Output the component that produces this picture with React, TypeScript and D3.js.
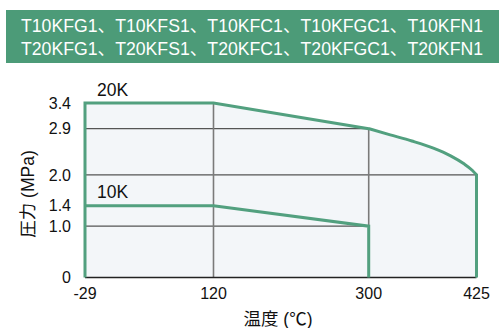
import React from "react";
import * as d3 from "d3";

const headerLines = [
  "T10KFG1、T10KFS1、T10KFC1、T10KFGC1、T10KFN1",
  "T20KFG1、T20KFS1、T20KFC1、T20KFGC1、T20KFN1",
];
const tempTicks = [-29, 120, 300, 425];
const pressureTicks = [0, 1.0, 1.4, 2.0, 2.9, 3.4];

// 20K rating: straight part, curved part
const t20Straight = [-29, -29, 120, 300];
const p20Straight = [0, 3.4, 3.4, 2.9];
const t20Curve = [300, 325, 350, 375, 395, 410, 420, 425];
const p20Curve = [2.9, 2.78, 2.66, 2.52, 2.37, 2.22, 2.09, 2.0];
const t20End = [425, 425];
const p20End = [2.0, 0];

// 10K rating
const t10 = [-29, 120, 300, 300];
const p10 = [1.4, 1.4, 1.0, 0];

// horizontal grid lines: pressure, end temperature
const hGridP = [2.9, 2.0, 1.0];
const hGridTo = [300, 425, 300];
// vertical grid lines: temperature, top pressure
const vGridT = [120, 300];
const vGridTop = [3.4, 2.9];

const seriesLabels = ["20K", "10K"];
const seriesLabelP = [3.4, 1.4];

const W = 499;
const H = 328;
const FONT = "'Liberation Sans', Arial, 'Noto Sans CJK JP', sans-serif";
const GREEN = "#52A07F";
const HEADER = "#4C9B78";

export default function App() {
  const x = d3.scaleLinear().domain([-29, 425]).range([85, 476.5]);
  const y = d3.scaleLinear().domain([0, 3.4]).range([277.5, 103]);

  const lin = d3
    .line<[number, number]>()
    .x((d) => x(d[0]))
    .y((d) => y(d[1]))
    .curve(d3.curveLinear);
  const mono = d3
    .line<[number, number]>()
    .x((d) => x(d[0]))
    .y((d) => y(d[1]))
    .curve(d3.curveMonotoneX);

  const zip = (a: number[], b: number[]) =>
    a.map((v, i) => [v, b[i]] as [number, number]);

  const d20 =
    (lin(zip(t20Straight, p20Straight)) || "") +
    (mono(zip(t20Curve, p20Curve)) || "").replace(/^M/, "L") +
    (lin(zip(t20End, p20End)) || "").replace(/^M/, "L");
  const d10 = lin(zip(t10, p10)) || "";

  return (
    <svg
      width={W}
      height={H}
      style={{ position: "absolute", left: 0, top: 0, display: "block" }}
      fontFamily={FONT}
    >
      <rect x={0} y={0} width={W} height={H} fill="#ffffff" />
      {/* header */}
      <rect x={6} y={10} width={493} height={53} fill={HEADER} />
      {headerLines.map((t, i) => (
        <text
          key={t}
          x={252}
          y={31.5 + i * 23.5}
          textAnchor="middle"
          fill="#ffffff"
          fontSize={18}
          textLength={462}
          lengthAdjust="spacingAndGlyphs"
        >
          {t}
        </text>
      ))}

      {/* fill */}
      <path d={d20 + "Z"} fill="#F3F6F9" stroke="none" />

      {/* grid */}
      {hGridP.map((p, i) => (
        <line
          key={"h" + p}
          x1={x(-29)}
          x2={x(hGridTo[i])}
          y1={y(p)}
          y2={y(p)}
          stroke="#555"
          strokeWidth={1.3}
        />
      ))}
      {vGridT.map((t, i) => (
        <line
          key={"v" + t}
          x1={x(t)}
          x2={x(t)}
          y1={y(0)}
          y2={y(vGridTop[i])}
          stroke="#7a7a7a"
          strokeWidth={1.6}
        />
      ))}
      {/* axis baseline */}
      <line
        x1={x(-29)}
        x2={x(425)}
        y1={y(0)}
        y2={y(0)}
        stroke="#222"
        strokeWidth={1.5}
      />

      {/* series */}
      <path
        d={d20}
        fill="none"
        stroke={GREEN}
        strokeWidth={3}
        strokeLinejoin="miter"
      />
      <path
        d={d10}
        fill="none"
        stroke={GREEN}
        strokeWidth={3}
        strokeLinejoin="miter"
      />

      {/* series labels */}
      {seriesLabels.map((s, i) => (
        <text
          key={s}
          x={97}
          y={y(seriesLabelP[i]) - 7.5}
          fontSize={17.5}
          fill="#111"
        >
          {s}
        </text>
      ))}

      {/* y ticks */}
      {pressureTicks.map((p) => (
        <text
          key={"yt" + p}
          x={71}
          y={y(p) + 5.8}
          textAnchor="end"
          fontSize={16}
          fill="#111"
        >
          {p === 0 ? "0" : p.toFixed(1)}
        </text>
      ))}
      {/* x ticks */}
      {tempTicks.map((t) => (
        <text
          key={"xt" + t}
          x={x(t)}
          y={299}
          textAnchor="middle"
          fontSize={16}
          fill="#111"
        >
          {t}
        </text>
      ))}

      {/* axis titles */}
      <text x={278} y={325} textAnchor="middle" fontSize={17.5} fill="#111">
        温度 (℃)
      </text>
      <text
        transform={`translate(34,194) rotate(-90)`}
        textAnchor="middle"
        fontSize={17.5}
        fill="#111"
      >
        圧力 (MPa)
      </text>
    </svg>
  );
}
